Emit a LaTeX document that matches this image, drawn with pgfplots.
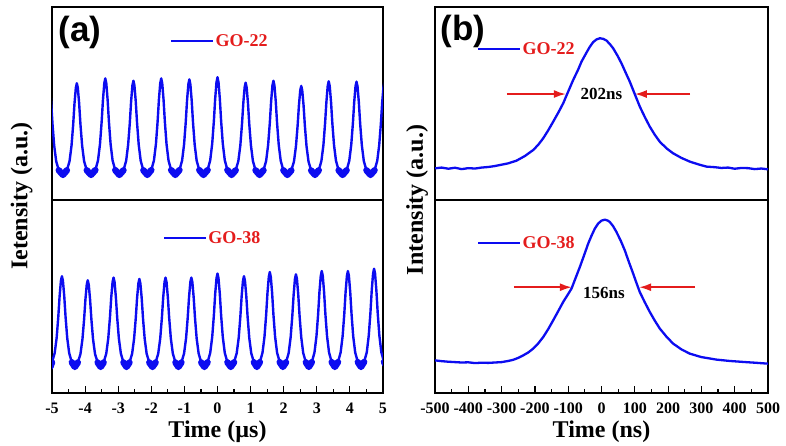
\documentclass[border=0pt]{standalone}
\usepackage{fontspec}
\setmainfont{Liberation Serif}
\newfontfamily\panelfont{Liberation Sans}
\usepackage{pgfplots}
\usepackage{pgfplotstable}
\pgfplotsset{compat=1.18}
\usetikzlibrary{arrows.meta}

\definecolor{legred}{RGB}{228,28,28}
\definecolor{trace}{RGB}{12,12,240}

% (a) top: GO-22 pulse train, time in us
\pgfplotstableread{
x y
-5.095 0.610
-5.065 0.586
-5.025 0.504
-4.985 0.394
-4.935 0.284
-4.875 0.202
-4.795 0.154
-4.670 0.130
-4.550 0.154
-4.470 0.201
-4.410 0.282
-4.360 0.391
-4.320 0.501
-4.280 0.581
-4.250 0.605
-4.220 0.581
-4.180 0.501
-4.140 0.391
-4.090 0.282
-4.030 0.201
-3.950 0.154
-3.820 0.130
-3.690 0.155
-3.610 0.205
-3.550 0.290
-3.500 0.405
-3.460 0.520
-3.420 0.605
-3.390 0.630
-3.360 0.605
-3.320 0.520
-3.280 0.405
-3.230 0.290
-3.170 0.205
-3.090 0.155
-2.965 0.130
-2.840 0.154
-2.760 0.203
-2.700 0.286
-2.650 0.398
-2.610 0.511
-2.570 0.594
-2.540 0.618
-2.510 0.594
-2.470 0.511
-2.430 0.398
-2.380 0.286
-2.320 0.203
-2.240 0.154
-2.120 0.130
-2.000 0.155
-1.920 0.205
-1.860 0.290
-1.810 0.405
-1.770 0.520
-1.730 0.605
-1.700 0.630
-1.670 0.605
-1.630 0.520
-1.590 0.405
-1.540 0.290
-1.480 0.205
-1.400 0.155
-1.275 0.130
-1.150 0.155
-1.070 0.204
-1.010 0.288
-0.960 0.402
-0.920 0.516
-0.880 0.600
-0.850 0.625
-0.820 0.600
-0.780 0.516
-0.740 0.402
-0.690 0.288
-0.630 0.204
-0.550 0.155
-0.425 0.130
-0.300 0.155
-0.220 0.206
-0.160 0.292
-0.110 0.408
-0.070 0.525
-0.030 0.611
0.000 0.636
0.030 0.611
0.070 0.525
0.110 0.408
0.160 0.292
0.220 0.206
0.300 0.155
0.425 0.130
0.550 0.154
0.630 0.202
0.690 0.283
0.740 0.393
0.780 0.503
0.820 0.584
0.850 0.608
0.880 0.584
0.920 0.503
0.960 0.393
1.010 0.283
1.070 0.202
1.150 0.154
1.270 0.130
1.390 0.154
1.470 0.203
1.530 0.286
1.580 0.398
1.620 0.511
1.660 0.594
1.690 0.618
1.720 0.594
1.760 0.511
1.800 0.398
1.850 0.286
1.910 0.203
1.990 0.154
2.110 0.130
2.230 0.153
2.310 0.199
2.370 0.278
2.420 0.384
2.460 0.490
2.500 0.568
2.530 0.591
2.560 0.568
2.600 0.490
2.640 0.384
2.690 0.278
2.750 0.199
2.830 0.153
2.945 0.130
3.060 0.154
3.140 0.203
3.200 0.285
3.250 0.397
3.290 0.508
3.330 0.591
3.360 0.615
3.390 0.591
3.430 0.508
3.470 0.397
3.520 0.285
3.580 0.203
3.660 0.154
3.780 0.130
3.900 0.154
3.980 0.202
4.040 0.285
4.090 0.396
4.130 0.507
4.170 0.589
4.200 0.613
4.230 0.589
4.270 0.507
4.310 0.396
4.360 0.285
4.420 0.202
4.500 0.154
4.6225 0.130
4.745 0.154
4.825 0.202
4.885 0.284
4.935 0.394
4.975 0.504
5.015 0.586
5.045 0.610
}\tla

% (a) bottom: GO-38 pulse train
\pgfplotstableread{
x y
-5.050 0.135
-5.000 0.159
-4.920 0.206
-4.860 0.285
-4.810 0.394
-4.770 0.502
-4.730 0.582
-4.700 0.605
-4.670 0.582
-4.630 0.502
-4.590 0.394
-4.540 0.285
-4.480 0.206
-4.400 0.159
-4.310 0.135
-4.220 0.158
-4.140 0.202
-4.080 0.279
-4.030 0.382
-3.990 0.485
-3.950 0.562
-3.920 0.584
-3.890 0.562
-3.850 0.485
-3.810 0.382
-3.760 0.279
-3.700 0.202
-3.620 0.158
-3.530 0.135
-3.440 0.158
-3.360 0.205
-3.300 0.283
-3.250 0.390
-3.210 0.496
-3.170 0.575
-3.140 0.598
-3.110 0.575
-3.070 0.496
-3.030 0.390
-2.980 0.283
-2.920 0.205
-2.840 0.158
-2.750 0.135
-2.660 0.158
-2.580 0.203
-2.520 0.281
-2.470 0.386
-2.430 0.491
-2.390 0.568
-2.360 0.591
-2.330 0.568
-2.290 0.491
-2.250 0.386
-2.200 0.281
-2.140 0.203
-2.060 0.158
-1.965 0.135
-1.870 0.158
-1.790 0.205
-1.730 0.283
-1.680 0.390
-1.640 0.496
-1.600 0.575
-1.570 0.598
-1.540 0.575
-1.500 0.496
-1.460 0.390
-1.410 0.283
-1.350 0.205
-1.270 0.158
-1.180 0.135
-1.090 0.158
-1.010 0.205
-0.950 0.283
-0.900 0.390
-0.860 0.496
-0.820 0.575
-0.790 0.598
-0.760 0.575
-0.720 0.496
-0.680 0.390
-0.630 0.283
-0.570 0.205
-0.490 0.158
-0.395 0.135
-0.300 0.159
-0.220 0.208
-0.160 0.290
-0.110 0.401
-0.070 0.513
-0.030 0.595
0.000 0.619
0.030 0.595
0.070 0.513
0.110 0.401
0.160 0.290
0.220 0.208
0.300 0.159
0.400 0.135
0.500 0.159
0.580 0.206
0.640 0.285
0.690 0.394
0.730 0.502
0.770 0.582
0.800 0.605
0.830 0.582
0.870 0.502
0.910 0.394
0.960 0.285
1.020 0.206
1.100 0.159
1.190 0.135
1.280 0.160
1.360 0.209
1.420 0.292
1.470 0.406
1.510 0.519
1.550 0.602
1.580 0.627
1.610 0.602
1.650 0.519
1.690 0.406
1.740 0.292
1.800 0.209
1.880 0.160
1.975 0.135
2.070 0.159
2.150 0.207
2.210 0.289
2.260 0.399
2.300 0.509
2.340 0.591
2.370 0.615
2.400 0.591
2.440 0.509
2.480 0.399
2.530 0.289
2.590 0.207
2.670 0.159
2.760 0.135
2.850 0.160
2.930 0.210
2.990 0.294
3.040 0.408
3.080 0.523
3.120 0.607
3.150 0.632
3.180 0.607
3.220 0.523
3.260 0.408
3.310 0.294
3.370 0.210
3.450 0.160
3.545 0.135
3.640 0.160
3.720 0.210
3.780 0.294
3.830 0.408
3.870 0.523
3.910 0.607
3.940 0.632
3.970 0.607
4.010 0.523
4.050 0.408
4.100 0.294
4.160 0.210
4.240 0.160
4.335 0.135
4.430 0.161
4.510 0.211
4.570 0.298
4.620 0.415
4.660 0.532
4.700 0.619
4.730 0.644
4.760 0.619
4.800 0.532
4.840 0.415
4.890 0.298
4.950 0.211
5.030 0.161
5.120 0.135
}\tlb

% (b) top: GO-22 single pulse, time in ns
\pgfplotstableread{
x y
-500 0.164
-480 0.168
-460 0.162
-440 0.167
-420 0.160
-400 0.165
-380 0.163
-360 0.168
-340 0.171
-320 0.176
-300 0.183
-280 0.190
-255 0.204
-230 0.228
-205 0.259
-190 0.286
-175 0.320
-160 0.361
-145 0.406
-130 0.452
-115 0.501
-100 0.562
-85 0.622
-70 0.676
-60 0.717
-45 0.764
-35 0.794
-25 0.818
-15 0.832
-5 0.838
5 0.835
15 0.826
25 0.808
35 0.786
48 0.748
60 0.708
72 0.662
85 0.613
100 0.548
115 0.484
130 0.430
145 0.380
160 0.338
175 0.302
195 0.268
215 0.242
240 0.218
265 0.199
290 0.185
315 0.173
340 0.170
360 0.166
380 0.168
400 0.162
420 0.166
440 0.165
460 0.160
480 0.163
500 0.159
}\tra

% (b) bottom: GO-38 single pulse
\pgfplotstableread{
x y
-500 0.169
-480 0.165
-460 0.162
-440 0.160
-420 0.158
-400 0.159
-380 0.155
-360 0.157
-340 0.156
-320 0.158
-300 0.160
-280 0.166
-265 0.172
-250 0.182
-235 0.195
-220 0.210
-205 0.230
-190 0.257
-175 0.290
-160 0.331
-145 0.377
-130 0.424
-115 0.472
-100 0.513
-90 0.541
-78 0.595
-65 0.653
-52 0.715
-40 0.774
-30 0.815
-20 0.852
-10 0.878
0 0.893
10 0.898
18 0.894
25 0.886
35 0.864
45 0.834
58 0.788
70 0.739
82 0.680
95 0.619
105 0.570
115 0.523
130 0.470
145 0.420
160 0.375
175 0.334
195 0.292
215 0.256
240 0.226
265 0.204
300 0.186
345 0.173
385 0.166
425 0.161
460 0.157
500 0.152
}\trb

\tikzset{axlabel/.style={font=\bfseries\fontsize{24}{24}\selectfont}}

\pgfplotsset{
  panel/.style={
    scale only axis, height=193pt,
    ymin=0, ymax=1, ytick=\empty,
    axis line style={line width=1.3pt},
    tick align=inside, xtick pos=lower,
    major tick length=7pt, minor tick length=4pt,
    every tick/.style={line width=1.2pt, black},
    tick label style={font=\bfseries\fontsize{16}{16}\selectfont},
    xticklabel style={yshift=-6pt},
    legend image code/.code={\draw[trace, line width=2.4pt] (0pt,0pt) -- (42pt,0pt);},
  },
  leg/.style={legend style={at={#1}, anchor=west, draw=none, fill=none,
    inner sep=0pt, text=legred, nodes={inner sep=1pt},
    font=\bfseries\fontsize{18}{18}\selectfont}},
  train/.style={trace, line width=2.4pt, line join=round},
  % noisy valleys: the same trace drawn thicker where it is near the floor
  band/.style={trace, line width=6.5pt, line join=round, line cap=round, forget plot,
    restrict y to domain=0:#1, unbounded coords=jump},
}

\begin{document}
\begin{tikzpicture}
\path[use as bounding box] (0pt,0pt) rectangle (786pt,446pt);

% ---- (a) top
\begin{axis}[panel, width=331pt, at={(52pt,246pt)}, anchor=south west,
  xmin=-5, xmax=5, xtick=\empty, leg={(0.3565,0.824)}]
\addplot[train] table {\tla};
\addlegendentry{GO-22}
\addplot[band=0.16] table {\tla};
\end{axis}

% ---- (a) bottom
\begin{axis}[panel, width=331pt, at={(52pt,53pt)}, anchor=south west,
  xmin=-5, xmax=5, xtick={-5,-4,...,5}, minor x tick num=1,
  xticklabels={-5,-4,-3,-2,-1,0,1,2,3,4,5},
  xlabel={Time (µs)}, ylabel={Ietensity (a.u.)},
  xlabel style={axlabel, at={(axis description cs:0.5,-0.2)}, anchor=center},
  ylabel style={axlabel, at={(axis description cs:-0.092,1.02)}, anchor=center},
  leg={(0.335,0.803)}]
\addplot[train] table {\tlb};
\addlegendentry{GO-38}
\addplot[band=0.165] table {\tlb};
\end{axis}

% ---- (b) top
\begin{axis}[panel, width=333pt, at={(435pt,246pt)}, anchor=south west,
  xmin=-500, xmax=500, xtick=\empty, leg={(0.126,0.782)}]
\addplot[trace, line width=2.3pt, line join=round] table {\tra};
\addlegendentry{GO-22}
\draw[legred, line width=1.8pt, -{Latex[length=12pt,width=8pt]}] (axis cs:-284,0.549) -- (axis cs:-107,0.549);
\draw[legred, line width=1.8pt, -{Latex[length=12pt,width=8pt]}] (axis cs:266,0.549) -- (axis cs:100,0.549);
\node[font=\bfseries\fontsize{17}{17}\selectfont] at (axis cs:0,0.549) {202ns};
\end{axis}

% ---- (b) bottom
\begin{axis}[panel, width=333pt, at={(435pt,53pt)}, anchor=south west,
  xmin=-500, xmax=500, xtick={-500,-400,...,500}, minor x tick num=1,
  xticklabels={-500,-400,-300,-200,-100,0,100,200,300,400,500},
  xlabel={Time (ns)}, ylabel={Intensity (a.u.)},
  xlabel style={axlabel, at={(axis description cs:0.5,-0.2)}, anchor=center},
  ylabel style={axlabel, at={(axis description cs:-0.054,1.0)}, anchor=center},
  leg={(0.126,0.777)}]
\addplot[trace, line width=2.3pt, line join=round] table {\trb};
\addlegendentry{GO-38}
\draw[legred, line width=1.8pt, -{Latex[length=12pt,width=8pt]}] (axis cs:-263,0.548) -- (axis cs:-89,0.548);
\draw[legred, line width=1.8pt, -{Latex[length=12pt,width=8pt]}] (axis cs:281,0.548) -- (axis cs:113,0.548);
\node[font=\bfseries\fontsize{17}{17}\selectfont] at (axis cs:7,0.516) {156ns};
\end{axis}

\node[font=\panelfont\bfseries\fontsize{35}{35}\selectfont] at (80pt,414pt) {(a)};
\node[font=\panelfont\bfseries\fontsize{35}{35}\selectfont] at (463pt,415pt) {(b)};
\end{tikzpicture}
\end{document}
